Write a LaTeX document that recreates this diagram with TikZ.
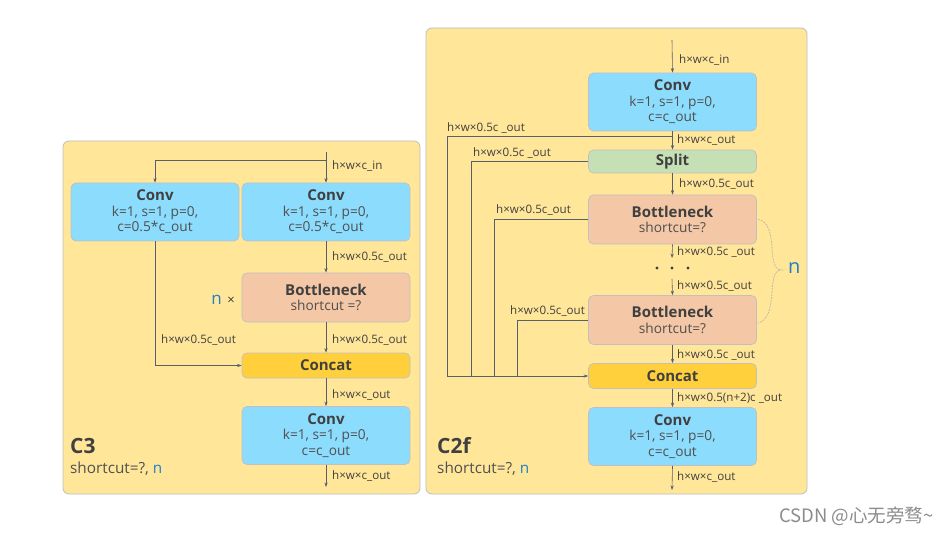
\documentclass[tikz,border=0pt]{standalone}
\usepackage{fontspec}
\setmainfont{Open Sans}
\newfontfamily\cjkfont{Noto Sans CJK SC}
\usetikzlibrary{arrows.meta,calc}
\definecolor{panelfill}{HTML}{FFE699}
\definecolor{panelborder}{HTML}{BFBFBF}
\definecolor{convfill}{HTML}{8CDCFE}
\definecolor{bnfill}{HTML}{F4C7A6}
\definecolor{catfill}{HTML}{FFD03C}
\definecolor{splitfill}{HTML}{C5E0B4}
\definecolor{boxborder}{HTML}{C0C0C0}
\definecolor{txt}{HTML}{404040}
\definecolor{txtl}{HTML}{505050}
\definecolor{linec}{HTML}{56606C}
\definecolor{nblue}{HTML}{2080C8}
\tikzset{
  panel/.style={draw=panelborder, fill=panelfill, rounded corners=6pt, line width=0.8pt},
  blk/.style={draw=boxborder, line width=0.7pt, rounded corners=5pt, minimum width=168pt, align=center, inner sep=0pt, text=txtl, font=\fontsize{13.7}{15.5}\selectfont},
  convbox/.style={blk, fill=convfill, minimum height=58pt},
  bnbox/.style={blk, fill=bnfill, minimum height=49pt},
  catbox/.style={blk, fill=catfill, minimum height=25pt},
  splitbox/.style={blk, fill=splitfill, minimum height=23pt},
  lbl/.style={anchor=west, inner sep=0pt, text=txt, font=\fontsize{11.6}{13}\selectfont},
  arr/.style={draw=linec, line width=0.6pt, -{Stealth[length=4.5pt,width=3.2pt]}},
  ln/.style={draw=linec, line width=0.6pt},
}
\newcommand{\ttl}[1]{{\color{txt}\fontsize{15}{17}\selectfont\bfseries #1}}
\begin{document}
\begin{tikzpicture}[x=1pt,y=-1pt]
\useasboundingbox (0,0) rectangle (952,534);
\fill[white] (0,0) rectangle (952,534);
% panels
\draw[panel] (63,141) rectangle (420,494);
\draw[panel] (426,28) rectangle (807,494);

% ---------- C3 ----------
\node[convbox] (c3a) at (155,212) {\ttl{Conv}\\k=1, s=1, p=0,\\c=0.5*c\_out};
\node[convbox] (c3b) at (326,212) {\ttl{Conv}\\k=1, s=1, p=0,\\c=0.5*c\_out};
\node[bnbox] (c3bn) at (326,297.5) {\ttl{Bottleneck}\\shortcut =?};
\node[catbox] (c3cat) at (326,365.5) {\ttl{Concat}};
\node[convbox] (c3out) at (326,435.5) {\ttl{Conv}\\k=1, s=1, p=0,\\c=c\_out};
\coordinate (c3in) at (326,152);
\coordinate (c3br) at (326,160);
\coordinate (c3end) at (326,487);
\draw[arr] (c3in) -- (c3b.north);
\draw[arr] (c3br) -| (c3a.north);
\draw[arr] (c3b.south) -- (c3bn.north);
\draw[arr] (c3bn.south) -- (c3cat.north);
\draw[arr] (c3a.south) |- (c3cat.west);
\draw[arr] (c3cat.south) -- (c3out.north);
\draw[arr] (c3out.south) -- (c3end);
\node[lbl] (l1) at (332,166) {h×w×c\_in};
\node[lbl] (l2) at (332,257) {h×w×0.5c\_out};
\node[lbl] (l3) at (332,340) {h×w×0.5c\_out};
\node[lbl] (l4) at (161,340) {h×w×0.5c\_out};
\node[lbl] (l5) at (332,395) {h×w×c\_out};
\node[lbl] (l6) at (332,476) {h×w×c\_out};
\node[anchor=east, inner sep=0pt, text=txt, font=\fontsize{13}{15}\selectfont] (nx) at (235,300) {{\fontsize{17}{19}\selectfont\color{nblue}n} \,×};
\node[anchor=west, inner sep=0pt, text=txt, font=\fontsize{21}{24}\selectfont\bfseries] (c3t) at (70,446) {C3};
\node[anchor=west, inner sep=0pt, text=txtl, font=\fontsize{15.3}{17}\selectfont] (c3s) at (70,469) {shortcut=?, {\color{nblue}n}};

% ---------- C2f ----------
\node[convbox] (f1) at (672.5,102) {\ttl{Conv}\\k=1, s=1, p=0,\\c=c\_out};
\node[splitbox] (fs) at (672.5,161.5) {\ttl{Split}};
\node[bnbox] (fb1) at (672.5,219.5) {\ttl{Bottleneck}\\shortcut=?};
\node[bnbox] (fb2) at (672.5,320) {\ttl{Bottleneck}\\shortcut=?};
\node[catbox] (fc) at (672.5,376) {\ttl{Concat}};
\node[convbox] (f2) at (672.5,436.5) {\ttl{Conv}\\k=1, s=1, p=0,\\c=c\_out};
\coordinate (fin) at (672,40);
\coordinate (fbr) at (672,136);
\coordinate (fd1) at (672,258);
\coordinate (fd2) at (672,279);
\coordinate (fend) at (672,490);
\coordinate (m1) at (447,376);
\coordinate (m2) at (471,376);
\coordinate (m3) at (494,376);
\coordinate (m4) at (517,376);
\draw[arr] (fin) -- (f1.north);
\draw[arr] (f1.south) -- (fs.north);
\draw[arr] (fs.south) -- (fb1.north);
\draw[arr] (fb1.south) -- (fd1);
\draw[arr] (fd2) -- (fb2.north);
\draw[arr] (fb2.south) -- (fc.north);
\draw[arr] (fc.south) -- (f2.north);
\draw[arr] (f2.south) -- (fend);
\draw[ln] (fbr) -| (m1);
\draw[ln] (fs.west) -| (m2);
\draw[ln] (fb1.west) -| (m3);
\draw[ln] (fb2.west) -| (m4);
\draw[arr] (m1) -- (fc.west);
\foreach \xx in {657,672,688}{\fill[txt] (\xx,268) circle (1.6pt);}
\node[lbl] (r1) at (679,60) {h×w×c\_in};
\node[lbl] (r2) at (677,140) {h×w×c\_out};
\node[lbl] (r3) at (447,128) {h×w×0.5c \_out};
\node[lbl] (r4) at (473,153) {h×w×0.5c \_out};
\node[lbl] (r5) at (679,184) {h×w×0.5c\_out};
\node[lbl] (r6) at (496,210) {h×w×0.5c\_out};
\node[lbl] (r7) at (677,252) {h×w×0.5c \_out};
\node[lbl] (r8) at (677,286) {h×w×0.5c\_out};
\node[lbl] (r9) at (510,311) {h×w×0.5c\_out};
\node[lbl] (r10) at (677,355) {h×w×0.5c \_out};
\node[lbl] (r11) at (677,398) {h×w×0.5(n+2)c \_out};
\node[lbl] (r12) at (677,477) {h×w×c\_out};
% brace
\coordinate (bt) at (782,270);
\draw[draw=black!30, line width=0.6pt, dash pattern=on 2pt off 1pt] ($(fb1.east)+(1,0)$) .. controls (768,221) and (771,232) .. (772,248) .. controls (773,264) and (775,270) .. (bt) .. controls (775,270) and (773,276) .. (772,292) .. controls (771,308) and (768,321) .. ($(fb2.east)+(1,3)$);
\node[anchor=west, inner sep=0pt, text=nblue, font=\fontsize{20}{22}\selectfont] (nn) at (788,268) {n};
\node[anchor=west, inner sep=0pt, text=txt, font=\fontsize{21}{24}\selectfont\bfseries] (c2t) at (437,446) {C2f};
\node[anchor=west, inner sep=0pt, text=txtl, font=\fontsize{15.3}{17}\selectfont] (c2s) at (437,469) {shortcut=?, {\color{nblue}n}};

% watermark
\node[anchor=west, inner sep=0pt, text=black!45, font=\cjkfont\fontsize{18.5}{20}\selectfont] (wm) at (779,516) {CSDN @心无旁骛\textasciitilde};
\end{tikzpicture}
\end{document}
